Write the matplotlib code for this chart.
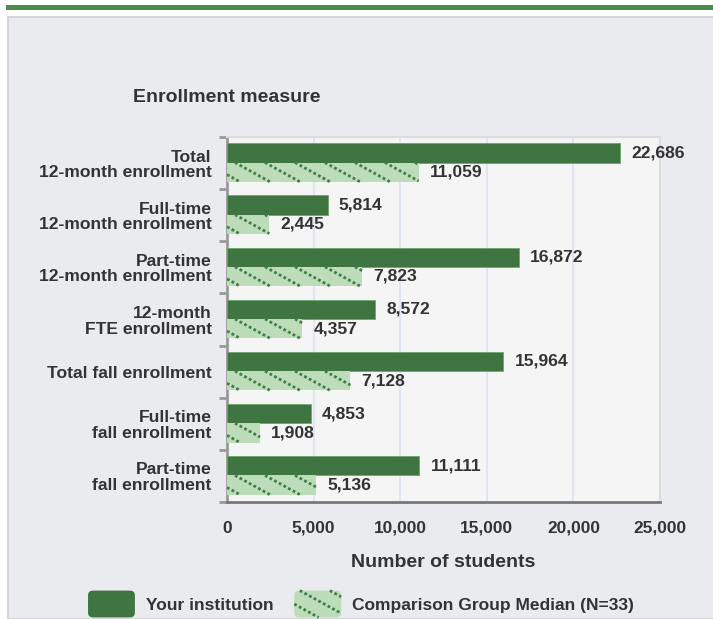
import matplotlib

matplotlib.use("Agg")
import matplotlib.pyplot as plt  # noqa: E402
import numpy as np  # noqa: E402
from matplotlib.collections import LineCollection  # noqa: E402
from matplotlib.legend_handler import HandlerBase  # noqa: E402
from matplotlib.patches import FancyBboxPatch, Rectangle  # noqa: E402

categories = [
    "Total\n12-month enrollment",
    "Full-time\n12-month enrollment",
    "Part-time\n12-month enrollment",
    "12-month\nFTE enrollment",
    "Total fall enrollment",
    "Full-time\nfall enrollment",
    "Part-time\nfall enrollment",
]
institution = [22686, 5814, 16872, 8572, 15964, 4853, 11111]
comparison = [11059, 2445, 7823, 4357, 7128, 1908, 5136]
x_ticks = [0, 5000, 10000, 15000, 20000, 25000]

INK = "#333333"
DARK = "#3f7541"
LIGHT = "#bddcba"
HATCH = "#3f7f41"
PANEL = "#eaebef"
DOTS = (0, (1.0, 0.9))

plt.rcParams.update({"font.family": ["Liberation Sans", "DejaVu Sans"], "font.weight": "bold"})

W, H = 713, 619
AX_L, AX_R, AX_T, AX_B = 227, 660, 137, 502
XMAX = 25000
fig = plt.figure(figsize=(W / 100, H / 100), dpi=100)
fig.patch.set_facecolor("white")


def hatch_segments(w, h, spacing, slope=0.55, phase=8):
    """diagonal segments (x right, y down) inside a w x h box"""
    run = h / slope
    segs = []
    x0 = phase - np.ceil(run / spacing + 1) * spacing
    while x0 < w:
        xa, ya, xb, yb = x0, 0.0, x0 + run, h
        if xa < 0:
            xa, ya = 0.0, slope * (0 - x0)
        if xb > w:
            xb, yb = w, slope * (w - x0)
        if xb > xa:
            segs.append([(xa, ya), (xb, yb)])
        x0 += spacing
    return segs


class SwatchHandler(HandlerBase):
    def __init__(self, fill, hatched=False):
        super().__init__()
        self.fill, self.hatched = fill, hatched

    def create_artists(self, legend, orig_handle, xdescent, ydescent, width, height, fontsize, trans):
        x, y = -xdescent, -ydescent
        box = FancyBboxPatch((x, y), width, height, boxstyle="round,pad=0,rounding_size=3.5",
                             fc=self.fill, ec="none", transform=trans)
        arts = [box]
        if self.hatched:
            segs = [[(x + px, y + height - py) for px, py in s]
                    for s in hatch_segments(width, height, 21.6, phase=4)]
            arts.append(LineCollection(segs, colors=HATCH, linewidths=2.0, linestyles=[DOTS],
                                       transform=trans))
        return arts


# panel + green top rule
fig.patches.append(Rectangle((8 / W, 0), 1, 1 - 17 / H, transform=fig.transFigure,
                             facecolor=PANEL, edgecolor="#d4d5d8", lw=1.5, zorder=-10))
fig.patches.append(Rectangle((6 / W, 1 - 10 / H), 1, 5 / H, transform=fig.transFigure,
                             facecolor="#4e8a4c", edgecolor="none", zorder=-10))

ax = fig.add_axes([AX_L / W, 1 - AX_B / H, (AX_R - AX_L) / W, (AX_B - AX_T) / H])
ax.set_facecolor("#f5f5f5")

y = np.arange(len(categories))
h = 0.37
b1 = ax.barh(y - 0.195, institution, height=h, color=DARK, edgecolor="#6ea56b", lw=0.6, zorder=3,
             label="Your institution")
b2 = ax.barh(y + 0.175, comparison, height=h, color=LIGHT, lw=0, zorder=3,
             label="Comparison Group Median (N=33)")

# dotted diagonal hatching on the comparison bars
sx = XMAX / (AX_R - AX_L)
sy = len(categories) / (AX_B - AX_T)
hatch = []
for yc, v in zip(y + 0.175, comparison):
    top = yc - h / 2
    for s in hatch_segments(v / sx, h / sy, 30):
        hatch.append([(px * sx, top + py * sy) for px, py in s])
ax.add_collection(LineCollection(hatch, colors=HATCH, linewidths=2.0, linestyles=[DOTS], zorder=4))

fmt = lambda v: f"{v:,.0f}"
ax.bar_label(b1, labels=[fmt(v) for v in institution], padding=8, fontsize=12.6,
             fontweight="bold", color=INK)
ax.bar_label(b2, labels=[fmt(v) for v in comparison], padding=8, fontsize=12.6,
             fontweight="bold", color=INK)

ax.set_xlim(0, XMAX)
ax.set_ylim(len(categories) - 0.5, -0.5)
ax.set_xticks(x_ticks)
ax.set_xticklabels([fmt(v) for v in x_ticks], fontsize=12.4, fontweight="bold", color=INK)
ax.tick_params(axis="x", length=0, pad=13.5)
ax.grid(axis="x", color="#dbe3ee", lw=1.2, zorder=0)

ax.set_yticks(y)
ax.set_yticklabels(categories, fontsize=12.6, fontweight="bold", color=INK,
                   multialignment="right", linespacing=1.05)
ax.tick_params(axis="y", length=0, pad=11)
ax.set_yticks(np.arange(len(categories) + 1) - 0.5, minor=True)
ax.tick_params(axis="y", which="minor", length=6, width=2, color="#999999")

for s in ("top", "right"):
    ax.spines[s].set_color("#dcdcdc")
    ax.spines[s].set_linewidth(1.5)
ax.spines["bottom"].set_color("#777777")
ax.spines["bottom"].set_linewidth(2)
ax.spines["left"].set_color("#999999")
ax.spines["left"].set_linewidth(2)

ax.set_xlabel("Number of students", fontsize=14, fontweight="bold", color=INK, labelpad=13)
fig.text(AX_L / W, 1 - 97 / H, "Enrollment measure", ha="center", va="center",
         fontsize=14, fontweight="bold", color=INK)

fig.legend(handles=[b1, b2], loc="center", bbox_to_anchor=(361 / W, 1 - 604 / H), ncol=2,
           frameon=False, fontsize=12.5, handlelength=2.7, handleheight=2.0,
           columnspacing=1.2, handletextpad=0.63, labelcolor=INK,
           handler_map={b1: SwatchHandler(DARK), b2: SwatchHandler(LIGHT, hatched=True)})

fig.savefig("out.png", dpi=100, facecolor="white")
